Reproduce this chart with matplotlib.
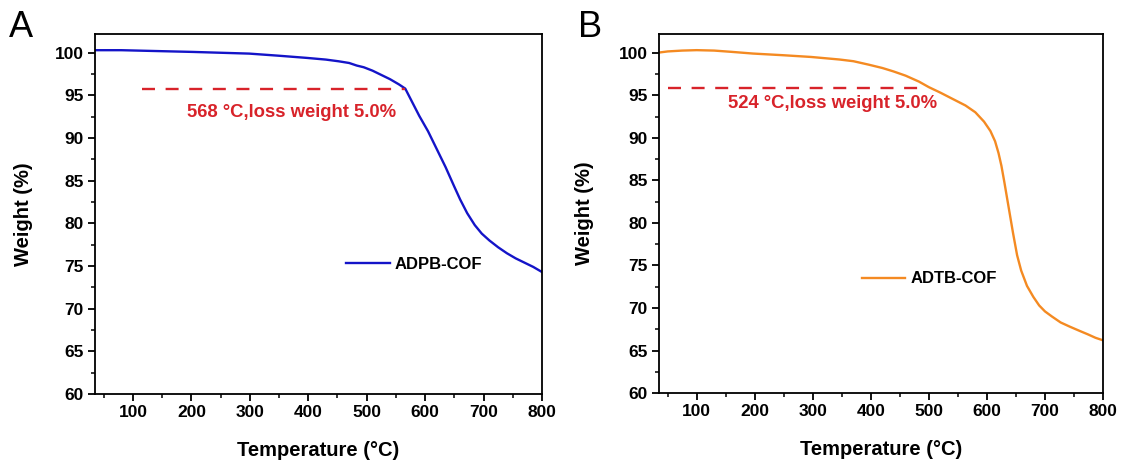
import matplotlib
matplotlib.use("Agg")
import matplotlib.pyplot as plt
from matplotlib.ticker import MultipleLocator

plt.rcParams['font.family'] = ['Liberation Sans', 'DejaVu Sans']

# ---- Data ----
temp_a = [33, 80, 140, 201, 250, 299, 350, 397, 430, 452, 470, 483, 495, 510,
          525, 540, 555, 566, 575, 590, 605, 620, 635, 650, 660, 672, 685, 697,
          710, 725, 740, 755, 770, 785, 800]
weight_a = [100.3, 100.3, 100.2, 100.1, 100.0, 99.9, 99.65, 99.4, 99.2, 99.0,
            98.8, 98.5, 98.3, 97.9, 97.4, 96.9, 96.3, 95.8, 94.6, 92.6, 90.8,
            88.7, 86.6, 84.3, 82.8, 81.2, 79.8, 78.8, 78.0, 77.2, 76.5, 75.9,
            75.4, 74.9, 74.3]

temp_b = [33, 50, 75, 100, 130, 160, 197, 250, 297, 346, 370, 396, 420, 439,
          460, 483, 500, 520, 540, 563, 580, 595, 606, 614, 620, 625, 630, 637,
          645, 652, 659, 669, 680, 690, 700, 712, 727, 743, 760, 774, 787, 800]
weight_b = [100.0, 100.15, 100.25, 100.3, 100.25, 100.1, 99.9, 99.7, 99.5,
            99.2, 99.0, 98.6, 98.2, 97.8, 97.3, 96.6, 95.95, 95.3, 94.6, 93.8,
            93.0, 91.9, 90.8, 89.6, 88.2, 86.7, 84.8, 82.0, 78.8, 76.2, 74.4,
            72.6, 71.3, 70.3, 69.6, 69.0, 68.3, 67.8, 67.3, 66.9, 66.5, 66.2]

label_a = "ADPB-COF"
label_b = "ADTB-COF"
dash_a_x = [115, 566]
dash_a_y = [95.7, 95.7]
dash_b_x = [50, 496]
dash_b_y = [95.9, 95.9]
note_a = "568 °C,loss weight 5.0%"
note_b = "524 °C,loss weight 5.0%"
note_a_pos = (372, 93.05)
note_b_pos = (334, 94.0)

xticks = [100, 200, 300, 400, 500, 600, 700, 800]
yticks = [60, 65, 70, 75, 80, 85, 90, 95, 100]

BLUE = "#1414c8"
ORANGE = "#f48a22"
RED = "#d8232a"

fig = plt.figure(figsize=(11.23, 4.63), dpi=100)
ax_a = fig.add_axes([0.0846, 0.149, 0.398, 0.7776])
ax_b = fig.add_axes([0.5868, 0.151, 0.3954, 0.7756])


def style(ax, temp, weight, color, label, dx, dy, note, note_pos, leg_anchor,
          panel, ylab_x):
    ax.plot(temp, weight, color=color, lw=1.7, label=label)
    ax.plot(dx, dy, color=RED, lw=1.7, dashes=(5.5, 4.5))
    ax.text(note_pos[0], note_pos[1], note, color=RED, fontsize=13.3,
            fontweight='bold', ha='center', va='center')
    ax.set_xlim(35, 800)
    ax.set_ylim(60, 102.2)
    ax.set_xticks(xticks)
    ax.set_yticks(yticks)
    ax.xaxis.set_minor_locator(MultipleLocator(50))
    ax.yaxis.set_minor_locator(MultipleLocator(2.5))
    ax.tick_params(which='major', direction='out', length=5, width=1.3,
                   labelsize=12.5, pad=3, top=False, right=False)
    ax.tick_params(which='minor', direction='out', length=3, width=1.1,
                   top=False, right=False)
    for lab in ax.get_xticklabels() + ax.get_yticklabels():
        lab.set_fontweight('bold')
    for s in ax.spines.values():
        s.set_linewidth(1.3)
    ax.set_xlabel("Temperature (°C)", fontsize=14.5, fontweight='bold', labelpad=15)
    ax.set_ylabel("Weight (%)", fontsize=14.5, fontweight='bold')
    ax.yaxis.set_label_coords(ylab_x, 0.5)
    ax.legend(loc='center left', bbox_to_anchor=leg_anchor, frameon=False,
              handlelength=2.6, handletextpad=0.3, borderpad=0,
              borderaxespad=0, prop={'weight': 'bold', 'size': 12})
    fig.text(panel[1], panel[2], panel[0], fontsize=26, ha='left', va='center')


style(ax_a, temp_a, weight_a, BLUE, label_a, dash_a_x, dash_a_y, note_a,
      note_a_pos, (0.562, 0.361), ("A", 0.008, 0.94), -0.138)
style(ax_b, temp_b, weight_b, ORANGE, label_b, dash_b_x, dash_b_y, note_b,
      note_b_pos, (0.457, 0.318), ("B", 0.515, 0.94), -0.146)

fig.savefig("out.png", dpi=100)
